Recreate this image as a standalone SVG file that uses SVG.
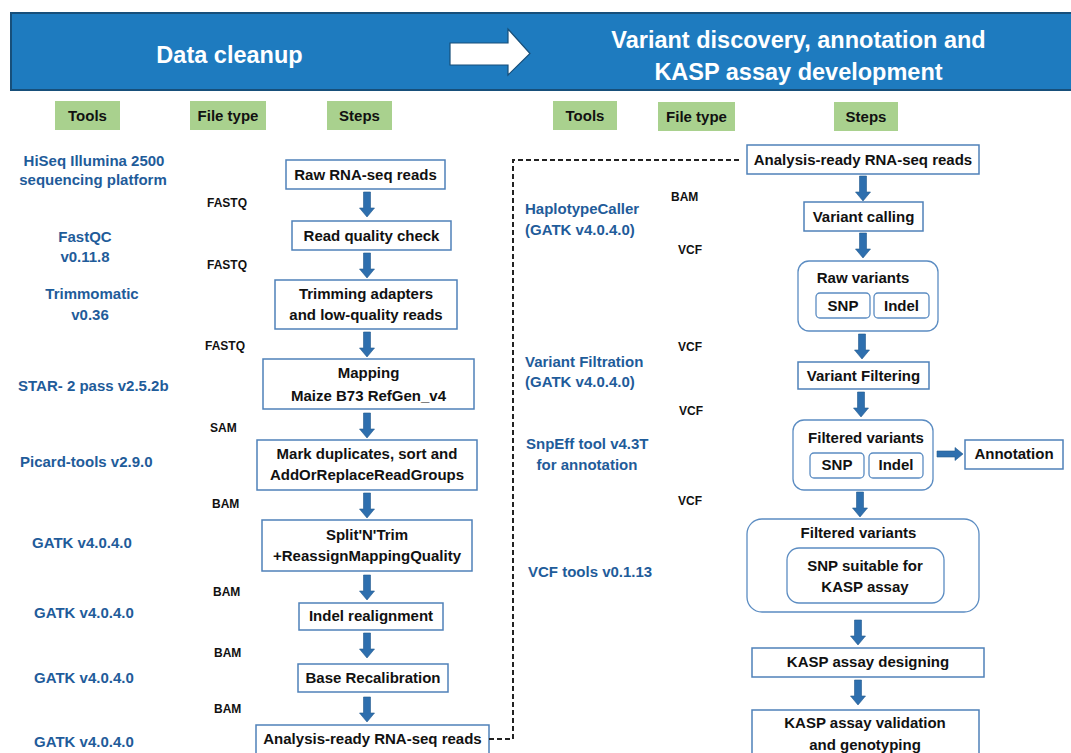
<svg xmlns="http://www.w3.org/2000/svg" xmlns:xlink="http://www.w3.org/1999/xlink" width="1071" height="753" viewBox="0 0 1071 753">
<defs>
<style>
text{font-family:"Liberation Sans",Arial,sans-serif;font-weight:bold;}
.hd{fill:#ffffff;font-size:23.5px;text-anchor:middle;}
.gl{fill:#a9d18e;}
.gt{font-size:15px;fill:#111;text-anchor:middle;}
.box{fill:#ffffff;stroke:#4f81b9;stroke-width:1.5;}
.rbox{fill:#ffffff;stroke:#5b8cc2;stroke-width:1.3;}
.bt{font-size:15px;fill:#111;text-anchor:middle;}
.tool{font-size:15px;fill:#1f5c9a;}
.toolc{font-size:15px;fill:#1f5c9a;text-anchor:middle;}
.ft{font-size:12px;fill:#111;}
.arr{fill:#2e6fae;stroke:#245a8f;stroke-width:0.6;}
.dash{fill:none;stroke:#222;stroke-width:2;stroke-dasharray:5,3;}
</style>
<path id="down" d="M-3.5,0 H3.5 V16 H7.5 L0,25 L-7.5,16 H-3.5 Z"/>
</defs>

<g id="header">
<rect x="11" y="13" width="1065" height="77" fill="#1e7bbf" stroke="#174f7a" stroke-width="2"/>
<text class="hd" x="229.5" y="63">Data cleanup</text>
<path d="M450,43 H508 V29 L530,53.5 L508,75 V65 H450 Z" fill="#ffffff" stroke="#174f7a" stroke-width="1.2"/>
<text class="hd" x="798.5" y="48">Variant discovery, annotation and</text>
<text class="hd" x="798.5" y="80">KASP assay development</text>
</g>

<g id="column-labels">
<rect class="gl" x="55" y="101" width="65" height="29"/><text class="gt" x="87.5" y="121">Tools</text>
<rect class="gl" x="190" y="101" width="76" height="29"/><text class="gt" x="228" y="121">File type</text>
<rect class="gl" x="327" y="101" width="65" height="29"/><text class="gt" x="359.5" y="121">Steps</text>
<rect class="gl" x="553" y="101" width="64" height="29"/><text class="gt" x="585" y="121">Tools</text>
<rect class="gl" x="658" y="102" width="77" height="29"/><text class="gt" x="696.5" y="122">File type</text>
<rect class="gl" x="834" y="102" width="64" height="29"/><text class="gt" x="866" y="122">Steps</text>
</g>

<g id="tools-left">
<text class="toolc" x="94" y="166">HiSeq Illumina 2500</text>
<text class="toolc" x="93" y="185">sequencing platform</text>
<text class="toolc" x="85" y="242">FastQC</text>
<text class="toolc" x="85" y="262">v0.11.8</text>
<text class="toolc" x="92" y="299">Trimmomatic</text>
<text class="toolc" x="90" y="320">v0.36</text>
<text class="tool" x="18" y="391">STAR- 2 pass v2.5.2b</text>
<text class="tool" x="20" y="467">Picard-tools v2.9.0</text>
<text class="tool" x="32" y="548">GATK v4.0.4.0</text>
<text class="tool" x="34" y="618">GATK v4.0.4.0</text>
<text class="tool" x="34" y="683">GATK v4.0.4.0</text>
<text class="tool" x="34" y="747">GATK v4.0.4.0</text>
</g>

<g id="filetypes-left">
<text class="ft" x="207" y="207">FASTQ</text>
<text class="ft" x="207" y="269">FASTQ</text>
<text class="ft" x="205" y="350">FASTQ</text>
<text class="ft" x="210" y="432">SAM</text>
<text class="ft" x="212" y="508">BAM</text>
<text class="ft" x="213" y="596">BAM</text>
<text class="ft" x="214" y="657">BAM</text>
<text class="ft" x="214" y="713">BAM</text>
</g>

<g id="tools-right">
<text class="tool" x="525" y="214">HaplotypeCaller</text>
<text class="tool" x="525" y="235">(GATK v4.0.4.0)</text>
<text class="tool" x="525" y="367">Variant Filtration</text>
<text class="tool" x="525" y="387">(GATK v4.0.4.0)</text>
<text class="tool" x="526" y="449">SnpEff tool v4.3T</text>
<text class="toolc" x="587" y="470">for annotation</text>
<text class="tool" x="528" y="577">VCF tools v0.1.13</text>
</g>

<g id="filetypes-right">
<text class="ft" x="671" y="201">BAM</text>
<text class="ft" x="678" y="254">VCF</text>
<text class="ft" x="678" y="351">VCF</text>
<text class="ft" x="679" y="415">VCF</text>
<text class="ft" x="678" y="505">VCF</text>
</g>

<g id="n-raw-reads"><rect class="box" x="286" y="160" width="159" height="29"/><text class="bt" x="365.5" y="180">Raw RNA-seq reads</text></g>
<g id="n-quality"><rect class="box" x="292" y="221" width="159" height="29"/><text class="bt" x="371.5" y="241">Read quality check</text></g>
<g id="n-trimming"><rect class="box" x="275" y="280" width="182" height="49"/><text class="bt" x="366" y="299">Trimming adapters</text><text class="bt" x="366" y="320">and low-quality reads</text></g>
<g id="n-mapping"><rect class="box" x="263" y="359" width="211" height="50"/><text class="bt" x="368.5" y="378">Mapping</text><text class="bt" x="368.5" y="401">Maize B73  RefGen_v4</text></g>
<g id="n-markdup"><rect class="box" x="257" y="440" width="220" height="50"/><text class="bt" x="367" y="459">Mark duplicates, sort and</text><text class="bt" x="367" y="480">AddOrReplaceReadGroups</text></g>
<g id="n-split"><rect class="box" x="262" y="520" width="210" height="51"/><text class="bt" x="367" y="540">Split'N'Trim</text><text class="bt" x="367" y="561">+ReassignMappingQuality</text></g>
<g id="n-indel-realign"><rect class="box" x="299" y="603" width="144" height="27"/><text class="bt" x="371" y="621">Indel realignment</text></g>
<g id="n-base-recal"><rect class="box" x="298" y="664" width="150" height="28"/><text class="bt" x="373" y="683">Base Recalibration</text></g>
<g id="n-analysis-left"><rect class="box" x="256" y="725" width="233" height="40"/><text class="bt" x="372.5" y="744">Analysis-ready RNA-seq reads</text></g>

<g id="n-analysis-right"><rect class="box" x="747" y="145" width="232" height="29"/><text class="bt" x="863" y="165">Analysis-ready RNA-seq reads</text></g>
<g id="n-variant-calling"><rect class="box" x="804" y="202" width="119" height="29"/><text class="bt" x="863.5" y="222">Variant calling</text></g>
<g id="n-raw-variants"><rect class="rbox" x="798" y="261" width="140" height="70" rx="11"/><text class="bt" x="863" y="283">Raw variants</text>
<rect class="rbox" x="816" y="293" width="54" height="25" rx="4"/><text class="bt" x="843" y="311">SNP</text>
<rect class="rbox" x="874" y="293" width="55" height="25" rx="4"/><text class="bt" x="901.5" y="311">Indel</text></g>
<g id="n-variant-filtering"><rect class="box" x="798" y="362" width="131" height="27"/><text class="bt" x="863.5" y="381">Variant Filtering</text></g>
<g id="n-filtered-variants"><rect class="rbox" x="793" y="420" width="140" height="70" rx="11"/><text class="bt" x="866" y="443">Filtered variants</text>
<rect class="rbox" x="810" y="453" width="54" height="25" rx="4"/><text class="bt" x="837" y="470">SNP</text>
<rect class="rbox" x="869" y="453" width="54" height="25" rx="4"/><text class="bt" x="896" y="470">Indel</text></g>
<g id="n-annotation"><rect class="box" x="965" y="440" width="98" height="29"/><text class="bt" x="1014" y="459">Annotation</text></g>
<g id="n-filtered-kasp"><rect class="rbox" x="747" y="519" width="232" height="93" rx="15"/><text class="bt" x="858.5" y="538">Filtered variants</text>
<rect class="rbox" x="787" y="548" width="157" height="55" rx="12"/><text class="bt" x="865" y="571">SNP suitable for</text><text class="bt" x="865" y="592">KASP assay</text></g>
<g id="n-kasp-design"><rect class="box" x="752" y="648" width="232" height="29"/><text class="bt" x="868" y="667">KASP assay designing</text></g>
<g id="n-kasp-valid"><rect class="box" x="752" y="710" width="227" height="55"/><text class="bt" x="865" y="728">KASP assay validation</text><text class="bt" x="865" y="750">and genotyping</text></g>

<g id="connectors">
<use href="#down" class="arr" x="367" y="192"/>
<use href="#down" class="arr" x="367" y="253"/>
<use href="#down" class="arr" x="367" y="332"/>
<use href="#down" class="arr" x="367" y="413"/>
<use href="#down" class="arr" x="367" y="493"/>
<use href="#down" class="arr" x="367" y="575"/>
<use href="#down" class="arr" x="367" y="633"/>
<use href="#down" class="arr" x="367" y="697"/>
<use href="#down" class="arr" x="863" y="176"/>
<use href="#down" class="arr" x="863" y="233"/>
<use href="#down" class="arr" x="862" y="334"/>
<use href="#down" class="arr" x="861" y="392"/>
<use href="#down" class="arr" x="860" y="492"/>
<use href="#down" class="arr" x="858" y="620"/>
<use href="#down" class="arr" x="858" y="680"/>
<path class="arr" d="M937,451 H955 V447.5 L963,454 L955,460.5 V457 H937 Z"/>
<path class="dash" d="M489,739 H513 V160 H742"/>
</g>
</svg>
